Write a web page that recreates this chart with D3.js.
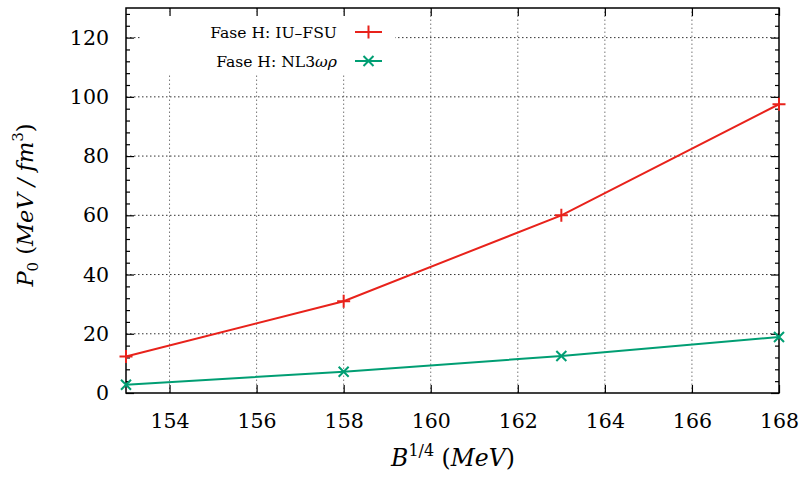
<!DOCTYPE html>
<html><head><meta charset="utf-8">
<script src="https://cdn.jsdelivr.net/npm/d3@7"></script>
<style>body{margin:0;background:#fff}svg text{font-family:"DejaVu Serif",serif}</style>
</head><body><svg id="c" width="802" height="478"></svg>
<script>
const xValues = [153, 158, 163, 168];
const iuFsu = [12.3, 31, 60, 97.5];
const nl3wr = [2.8, 7.2, 12.5, 18.9];
const xTicks = [154, 156, 158, 160, 162, 164, 166, 168];
const yTicks = [0, 20, 40, 60, 80, 100, 120];
const seriesNames = ["Fase H: IU\u2013FSU", "Fase H: NL3\u03c9\u03c1"];
const seriesColors = ["#e8221b", "#009e73"];

const svg = d3.select("#c");
const L = 126, R = 779, T = 8, B = 393;
const x = d3.scaleLinear().domain([153, 168]).range([L, R]);
const y = d3.scaleLinear().domain([0, 130]).range([B, T]);

// grid
const grid = svg.append("g");
grid.selectAll("line.v").data(xTicks.filter(d => d > 153 && d < 168)).join("line")
  .attr("x1", d => x(d)).attr("x2", d => x(d)).attr("y1", B).attr("y2", T)
  .attr("stroke", "#777").attr("stroke-width", 1).attr("stroke-dasharray", "1.5,2.5");
grid.selectAll("line.h").data(yTicks.filter(d => d > 0)).join("line")
  .attr("x1", L).attr("x2", R).attr("y1", d => y(d)).attr("y2", d => y(d))
  .attr("stroke", "#333").attr("stroke-width", 1).attr("stroke-dasharray", "1.5,2.5");

// legend background
svg.append("rect").attr("x", 140).attr("y", 12).attr("width", 255).attr("height", 63).attr("fill", "#fff");

// axes
const tickLen = 8, minorLen = 4;
const gB = svg.append("g").attr("transform", `translate(0,${B})`)
  .call(d3.axisBottom(x).tickValues(xTicks).tickSize(-tickLen).tickPadding(20).tickFormat(d3.format("d")));
const gT = svg.append("g").attr("transform", `translate(0,${T})`)
  .call(d3.axisTop(x).tickValues(xTicks).tickSize(-tickLen).tickFormat(""));
const minorY = d3.range(0, 131, 4).filter(d => d % 20 !== 0);
const gL = svg.append("g").attr("transform", `translate(${L},0)`)
  .call(d3.axisLeft(y).tickValues(yTicks).tickSize(-tickLen).tickPadding(17));
const gR = svg.append("g").attr("transform", `translate(${R},0)`)
  .call(d3.axisRight(y).tickValues(yTicks).tickSize(-tickLen).tickFormat(""));
const gLm = svg.append("g").attr("transform", `translate(${L},0)`)
  .call(d3.axisLeft(y).tickValues(minorY).tickSize(-minorLen).tickFormat(""));
const gRm = svg.append("g").attr("transform", `translate(${R},0)`)
  .call(d3.axisRight(y).tickValues(minorY).tickSize(-minorLen).tickFormat(""));
[gB, gT, gL, gR, gLm, gRm].forEach(g => {
  g.select(".domain").remove();
  g.selectAll("line").attr("stroke", "#000").attr("stroke-width", 1.2);
  g.selectAll("text").attr("font-family", "DejaVu Serif").attr("font-size", 20.5).attr("fill", "#000");
});
svg.append("rect").attr("x", L).attr("y", T).attr("width", R - L).attr("height", B - T)
  .attr("fill", "none").attr("stroke", "#000").attr("stroke-width", 1.5);

// series
const seriesData = [iuFsu, nl3wr];
const line = d3.line().x(d => x(d[0])).y(d => y(d[1]));
function marker(g, cx, cy, i, col) {
  const s = 6.5;
  if (i === 0) {
    g.append("path").attr("d", `M${cx - s},${cy}H${cx + s}M${cx},${cy - s}V${cy + s}`)
      .attr("stroke", col).attr("stroke-width", 2).attr("fill", "none");
  } else {
    const t = 5;
    g.append("path").attr("d", `M${cx - t},${cy - t}L${cx + t},${cy + t}M${cx - t},${cy + t}L${cx + t},${cy - t}`)
      .attr("stroke", col).attr("stroke-width", 2).attr("fill", "none");
  }
}
seriesData.forEach((vals, i) => {
  const pts = xValues.map((xv, j) => [xv, vals[j]]);
  svg.append("path").datum(pts).attr("d", line).attr("fill", "none")
    .attr("stroke", seriesColors[i]).attr("stroke-width", 2);
  const g = svg.append("g");
  pts.forEach(p => marker(g, x(p[0]), y(p[1]), i, seriesColors[i]));
});

// legend
const legY = [32, 61];
seriesNames.forEach((name, i) => {
  const t = svg.append("text").attr("x", 337).attr("y", legY[i] + 6).attr("text-anchor", "end")
    .attr("font-size", 15.6).attr("fill", "#000");
  if (i === 0) t.text(name);
  else {
    t.append("tspan").text("Fase H: NL3");
    t.append("tspan").attr("font-style", "italic").text("\u03c9\u03c1");
  }
  svg.append("line").attr("x1", 355).attr("x2", 382).attr("y1", legY[i]).attr("y2", legY[i])
    .attr("stroke", seriesColors[i]).attr("stroke-width", 2);
  marker(svg, 368.5, legY[i], i, seriesColors[i]);
});

// axis labels
const xl = svg.append("text").attr("x", 453).attr("y", 466).attr("text-anchor", "middle").attr("font-size", 23.5);
xl.append("tspan").attr("font-style", "italic").text("B");
xl.append("tspan").attr("dy", -10).attr("font-size", 16).text("1/4");
xl.append("tspan").attr("dy", 10).text(" (");
xl.append("tspan").attr("font-style", "italic").text("MeV");
xl.append("tspan").text(")");

const yl = svg.append("text").attr("transform", "translate(33,205) rotate(-90)").attr("text-anchor", "middle").attr("font-size", 22.5);
yl.append("tspan").attr("font-style", "italic").text("P");
yl.append("tspan").attr("dy", 5).attr("font-size", 15).text("0");
yl.append("tspan").attr("dy", -5).text(" (");
yl.append("tspan").attr("font-style", "italic").text("MeV / fm");
yl.append("tspan").attr("dy", -10).attr("font-size", 15).text("3");
yl.append("tspan").attr("dy", 10).text(")");
</script></body></html>
